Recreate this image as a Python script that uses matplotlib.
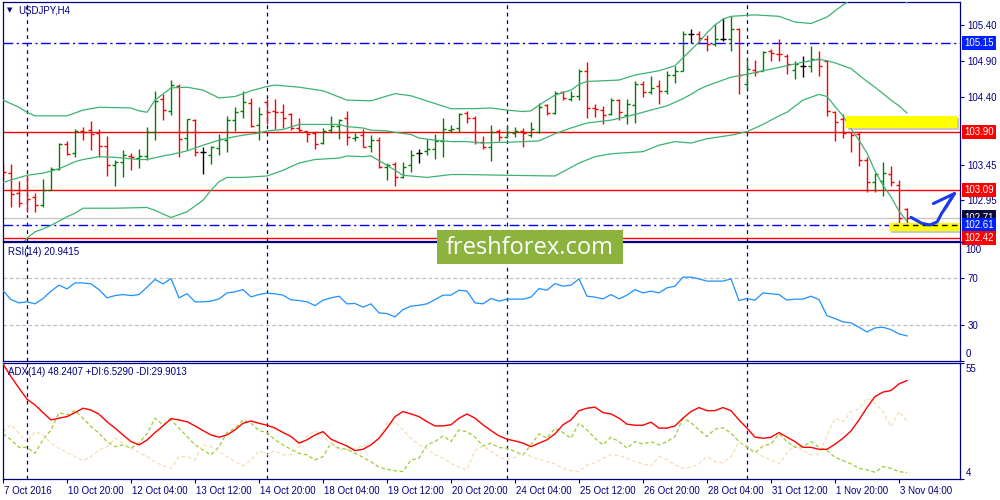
import numpy as np
import matplotlib.pyplot as plt
from matplotlib.patches import Rectangle
from matplotlib.transforms import blended_transform_factory, ScaledTranslation

plt.rcParams['font.family'] = ['Liberation Sans', 'DejaVu Sans']

# ---------------------------------------------------------------------------
# Data (7 Oct 2016 12:00 .. 3 Nov 2016 08:00)
opens = [103.44, 103.33, 103.05, 103.10, 102.99, 102.88, 103.10, 103.39, 103.74, 103.61,
         103.92, 103.93, 103.89, 103.71, 103.45, 103.48, 103.57, 103.54, 103.57, 103.91,
         104.36, 104.20, 104.55, 103.82, 104.07, 103.63, 103.59, 103.68, 103.79, 104.07,
         104.20, 104.31, 104.00, 104.32, 104.20, 104.18, 104.15, 103.96, 103.92, 103.89,
         103.75, 103.93, 103.99, 104.10, 103.82, 103.86, 103.71, 103.79, 103.41, 103.46,
         103.27, 103.44, 103.61, 103.64, 103.66, 103.78, 103.93, 103.96, 104.17, 104.10,
         103.77, 103.70, 103.92, 103.84, 103.89, 103.92, 103.86, 103.91, 104.28, 104.17,
         104.47, 104.36, 104.41, 104.76, 104.24, 104.21, 104.15, 104.35, 104.14, 104.28,
         104.57, 104.47, 104.55, 104.48, 104.70, 104.76, 105.27, 105.27, 105.21, 105.14,
         105.20, 105.20, 105.34, 104.58, 104.77, 104.76, 105.03, 105.00, 104.97, 104.77,
         104.83, 104.83, 104.92, 104.90, 104.19, 104.09, 103.90, 103.87, 103.52, 103.20,
         103.22, 103.32, 103.17, 102.83]
highs = [103.47, 103.46, 103.22, 103.30, 103.05, 103.25, 103.41, 103.75, 103.78, 103.95,
         103.98, 104.06, 103.95, 103.85, 103.51, 103.65, 103.61, 103.66, 103.98, 104.48,
         104.44, 104.63, 104.57, 104.09, 104.08, 103.69, 103.71, 103.87, 104.13, 104.26,
         104.48, 104.38, 104.26, 104.36, 104.36, 104.30, 104.17, 104.10, 103.92, 103.92,
         103.96, 104.13, 104.09, 104.20, 103.89, 103.94, 103.86, 103.83, 103.47, 103.48,
         103.48, 103.65, 103.66, 103.80, 103.88, 104.10, 104.00, 104.17, 104.20, 104.13,
         103.85, 104.00, 103.94, 103.99, 103.98, 103.96, 104.05, 104.31, 104.30, 104.48,
         104.48, 104.48, 104.78, 104.88, 104.29, 104.27, 104.38, 104.36, 104.37, 104.61,
         104.62, 104.69, 104.63, 104.75, 104.83, 105.32, 105.34, 105.32, 105.26, 105.41,
         105.49, 105.52, 105.35, 104.92, 104.91, 105.04, 105.06, 105.21, 104.99, 104.90,
         104.96, 105.11, 105.04, 104.91, 104.20, 104.15, 103.91, 103.91, 103.55, 103.33,
         103.48, 103.43, 103.24, 102.84]
lows = [103.23, 102.85, 102.86, 102.79, 102.79, 102.86, 103.09, 103.38, 103.59, 103.55,
        103.79, 103.65, 103.56, 103.29, 103.15, 103.27, 103.37, 103.40, 103.51, 103.79,
        104.07, 104.14, 103.55, 103.65, 103.57, 103.32, 103.46, 103.59, 103.62, 103.92,
        104.10, 103.98, 103.79, 104.01, 103.95, 103.96, 103.93, 103.90, 103.77, 103.66,
        103.73, 103.89, 103.80, 103.72, 103.78, 103.69, 103.63, 103.40, 103.24, 103.15,
        103.26, 103.34, 103.47, 103.59, 103.53, 103.56, 103.90, 103.90, 104.03, 103.74,
        103.66, 103.50, 103.78, 103.82, 103.83, 103.70, 103.84, 103.89, 104.14, 104.16,
        104.35, 104.34, 104.35, 104.10, 104.11, 104.01, 104.14, 104.07, 104.01, 104.03,
        104.40, 104.44, 104.29, 104.44, 104.59, 104.75, 105.15, 105.14, 105.04, 105.11,
        105.17, 105.03, 104.44, 104.51, 104.68, 104.75, 104.90, 104.90, 104.72, 104.64,
        104.67, 104.74, 104.68, 104.13, 103.78, 103.82, 103.62, 103.43, 103.07, 103.07,
        103.01, 103.15, 102.54, 102.57]
closes = [103.34, 103.04, 102.91, 102.97, 102.88, 103.10, 103.39, 103.74, 103.60, 103.92,
          103.90, 103.88, 103.71, 103.45, 103.49, 103.59, 103.55, 103.57, 103.91, 104.34,
          104.21, 104.56, 103.80, 104.08, 103.63, 103.63, 103.70, 103.80, 104.07, 104.18,
          104.33, 103.99, 104.16, 104.19, 104.18, 104.10, 103.96, 103.93, 103.88, 103.73,
          103.92, 103.99, 104.07, 103.84, 103.84, 103.70, 103.79, 103.42, 103.44, 103.27,
          103.41, 103.59, 103.61, 103.66, 103.78, 103.95, 103.95, 104.16, 104.10, 103.76,
          103.70, 103.91, 103.84, 103.91, 103.92, 103.89, 103.94, 104.25, 104.17, 104.45,
          104.38, 104.41, 104.76, 104.24, 104.23, 104.14, 104.35, 104.19, 104.29, 104.58,
          104.47, 104.52, 104.48, 104.70, 104.76, 105.27, 105.27, 105.22, 105.13, 105.20,
          105.20, 105.34, 104.70, 104.78, 104.74, 105.02, 105.01, 104.99, 104.85, 104.85,
          104.83, 104.92, 104.82, 104.20, 104.05, 103.89, 103.86, 103.51, 103.21, 103.32,
          103.33, 103.20, 102.70, 102.71]

# Bollinger bands (20, 2) sampled along the bars
bb_upper_bar = [0, 2, 3, 4, 6, 8, 10, 12, 16, 17, 18, 19, 21, 23, 25, 27, 29, 31, 33, 34,
                37, 40, 43, 46, 49, 51, 56, 59, 61, 63, 65, 66, 67, 69, 71, 72, 73, 77, 79, 82,
                84, 85, 86, 87, 88, 89, 90, 91, 94, 97, 99, 101, 103, 105, 106, 108, 110, 112, 113]
bb_upper = [104.35, 104.25, 104.18, 104.13, 104.13, 104.13, 104.21, 104.25, 104.24, 104.20,
            104.18, 104.35, 104.52, 104.53, 104.49, 104.38, 104.40, 104.48, 104.54, 104.56,
            104.53, 104.48, 104.35, 104.34, 104.44, 104.41, 104.23, 104.23, 104.24, 104.21,
            104.19, 104.20, 104.28, 104.42, 104.49, 104.57, 104.61, 104.63, 104.70, 104.76,
            104.83, 104.94, 105.05, 105.16, 105.29, 105.40, 105.48, 105.52, 105.54, 105.52,
            105.44, 105.42, 105.51, 105.68, 105.75, 105.86, 105.89, 105.79, 105.71]
bb_middle_bar = [0, 3, 5, 7, 9, 10, 12, 14, 17, 18, 20, 21, 23, 25, 27, 29, 30, 32, 33, 35,
                 37, 38, 42, 43, 45, 46, 48, 49, 51, 52, 54, 56, 58, 60, 62, 63, 67, 69, 71, 73,
                 76, 78, 80, 83, 85, 86, 87, 88, 91, 93, 95, 98, 100, 102, 103, 104, 106, 108, 109,
                 111, 112, 113]
bb_middle = [103.20, 103.30, 103.33, 103.39, 103.49, 103.52, 103.56, 103.55, 103.52, 103.52,
             103.57, 103.59, 103.64, 103.72, 103.79, 103.84, 103.86, 103.89, 103.92, 103.94,
             104.01, 104.01, 104.01, 103.98, 103.96, 103.93, 103.92, 103.90, 103.87, 103.82,
             103.79, 103.77, 103.77, 103.75, 103.76, 103.76, 103.78, 103.88, 103.96, 104.03,
             104.07, 104.12, 104.18, 104.27, 104.37, 104.43, 104.50, 104.55, 104.67, 104.71,
             104.76, 104.83, 104.88, 104.92, 104.90, 104.87, 104.79, 104.61, 104.53,
             104.35, 104.27, 104.17]
bb_lower_bar = [0, 1, 2, 3, 4, 5, 6, 8, 9, 10, 14, 18, 19, 21, 22, 23, 25, 26, 27, 28,
                30, 33, 35, 37, 39, 42, 43, 45, 46, 48, 50, 53, 56, 58, 63, 69, 70, 72, 74, 76,
                80, 82, 84, 86, 87, 88, 91, 93, 95, 97, 98, 100, 102, 103, 104, 105, 106, 107,
                108, 109, 110, 111, 112, 113]
bb_lower = [102.08, 102.18, 102.30, 102.42, 102.51, 102.55, 102.60, 102.72, 102.77, 102.84,
            102.84, 102.85, 102.81, 102.71, 102.75, 102.79, 102.95, 103.09, 103.21, 103.27,
            103.27, 103.29, 103.37, 103.47, 103.52, 103.54, 103.57, 103.56, 103.57, 103.44,
            103.30, 103.27, 103.31, 103.31, 103.30, 103.29, 103.35, 103.47, 103.56, 103.60,
            103.63, 103.72, 103.77, 103.75, 103.78, 103.81, 103.86, 103.91, 104.01, 104.13,
            104.18, 104.35, 104.43, 104.40, 104.26, 104.13, 103.95, 103.79,
            103.61, 103.36, 103.16, 103.00, 102.80, 102.66]

rsi = [59.5, 51.8, 49.0, 49.9, 48.2, 52.7, 59.0, 64.1, 60.9, 66.0,
       66.0, 65.2, 60.3, 53.3, 55.2, 56.1, 55.2, 56.1, 62.4, 68.9,
       65.2, 69.7, 53.3, 56.9, 49.9, 49.9, 50.5, 52.4, 57.5, 58.4,
       60.3, 54.1, 56.1, 57.3, 56.7, 55.6, 51.6, 51.0, 49.9, 46.7,
       51.3, 53.3, 54.7, 48.2, 48.5, 45.4, 48.2, 40.5, 39.9, 37.1,
       43.3, 46.2, 47.0, 48.2, 51.8, 55.6, 55.6, 59.8, 59.0, 49.0,
       48.2, 52.7, 50.5, 52.2, 52.2, 52.2, 53.9, 61.2, 59.8, 65.4,
       63.2, 64.1, 69.4, 54.7, 53.9, 52.4, 56.1, 52.4, 55.6, 60.3,
       57.5, 59.0, 57.5, 61.8, 63.2, 70.9, 70.9, 69.4, 67.5, 67.5,
       67.5, 69.4, 51.0, 52.7, 51.3, 57.5, 56.7, 56.1, 51.3, 52.2,
       52.2, 54.7, 51.8, 38.2, 35.7, 32.9, 32.0, 28.3, 24.3, 27.7,
       28.3, 26.3, 22.6, 20.94]

adx = [55.8, 50.0, 44.8, 39.8, 37.2, 33.7, 30.4, 31.2, 31.9, 33.7,
       35.7, 34.9, 33.0, 29.6, 26.7, 23.6, 20.6, 19.1, 21.3, 24.7,
       27.7, 31.0, 30.4, 29.6, 27.7, 25.6, 23.6, 22.6, 23.6, 25.9,
       28.9, 29.9, 28.9, 28.0, 26.7, 24.7, 22.9, 19.9, 21.4, 23.6,
       25.1, 21.7, 20.1, 18.6, 16.5, 17.1, 19.1, 22.1, 26.7, 31.9,
       34.2, 33.1, 31.9, 29.6, 27.7, 27.7, 28.2, 31.2, 33.1, 31.2,
       28.2, 25.6, 23.2, 21.7, 20.9, 19.9, 18.3, 19.9, 21.4, 24.1,
       28.2, 30.4, 34.6, 35.7, 36.2, 33.7, 33.1, 31.2, 28.5, 28.0,
       28.0, 29.4, 26.7, 26.7, 27.7, 31.2, 34.2, 36.0, 34.6, 34.6,
       36.0, 34.6, 30.4, 26.7, 22.6, 22.1, 22.6, 24.7, 22.6, 20.6,
       18.0, 18.0, 17.1, 17.1, 19.4, 22.1, 25.4, 30.4, 36.0, 41.0,
       43.0, 43.7, 46.7, 48.24]
plus_di = [24.1, 21.4, 18.0, 18.0, 15.3, 21.4, 25.9, 33.7, 32.7, 34.6,
           31.2, 27.4, 24.4, 20.6, 18.3, 19.1, 17.6, 19.9, 24.1, 31.2,
           28.2, 30.4, 26.7, 22.9, 19.1, 16.8, 14.6, 18.3, 24.7, 26.7,
           30.4, 28.9, 25.6, 24.7, 21.4, 19.1, 17.1, 15.3, 14.6, 12.3,
           13.8, 19.9, 17.6, 17.1, 15.3, 13.5, 11.5, 9.0, 8.1, 7.4,
           7.0, 12.3, 13.1, 19.1, 20.6, 23.2, 20.6, 25.9, 25.1, 22.6,
           18.6, 19.9, 17.9, 17.6, 16.1, 14.6, 19.1, 24.1, 22.1, 26.7,
           24.7, 22.1, 28.9, 25.9, 22.1, 19.1, 22.6, 20.6, 17.6, 20.6,
           19.5, 20.6, 19.1, 20.6, 22.9, 31.2, 29.2, 25.9, 22.9, 26.2,
           26.9, 24.4, 20.6, 17.9, 15.6, 18.6, 19.5, 24.1, 20.6, 18.0,
           18.3, 20.6, 18.0, 16.5, 13.5, 12.0, 10.5, 8.5, 7.8, 6.7,
           9.3, 8.5, 7.0, 6.53]
minus_di = [25.1, 28.2, 24.4, 20.1, 25.1, 23.6, 19.9, 17.6, 15.6, 13.8,
            12.0, 13.8, 16.8, 18.3, 22.1, 19.9, 17.6, 15.6, 13.8, 11.5,
            9.6, 8.5, 13.8, 13.8, 12.3, 19.1, 18.3, 16.1, 13.8, 11.5,
            9.6, 12.3, 16.5, 14.6, 16.5, 14.6, 14.6, 18.0, 22.9, 25.6,
            22.9, 19.9, 16.8, 17.1, 17.6, 18.6, 19.5, 22.1, 28.9, 29.6,
            25.9, 22.1, 19.1, 17.1, 14.6, 13.1, 10.8, 9.0, 7.8, 16.8,
            18.6, 16.1, 13.8, 12.3, 13.5, 16.1, 13.8, 12.6, 11.5, 10.5,
            8.5, 7.4, 7.0, 10.0, 11.0, 13.1, 14.6, 14.3, 13.1, 11.5,
            10.5, 9.6, 13.8, 12.3, 10.0, 8.5, 9.0, 10.5, 13.8, 11.5,
            11.0, 13.8, 20.6, 18.6, 16.1, 13.8, 12.3, 10.5, 15.3, 19.1,
            16.5, 14.6, 15.0, 23.2, 31.2, 29.6, 34.2, 35.3, 40.3, 38.0,
            34.2, 27.4, 34.2, 29.90]

date_ticks = [0, 8, 16, 24, 32, 40, 48, 56, 64, 72, 80, 88, 96, 104, 112]
date_labels = ['7 Oct 2016', '10 Oct 20:00', '12 Oct 04:00', '13 Oct 12:00', '14 Oct 20:00',
               '18 Oct 04:00', '19 Oct 12:00', '20 Oct 20:00', '24 Oct 04:00', '25 Oct 12:00',
               '26 Oct 20:00', '28 Oct 04:00', '31 Oct 12:00', '1 Nov 20:00', '3 Nov 04:00']
week_starts = [3, 33, 63, 93]
price_ticks = [105.40, 104.90, 104.40, 103.45, 102.95]

# horizontal levels drawn on the chart
level_lines = [(105.15, '#0000FF', 'dashdot'), (103.90, '#FF0000', 'solid'),
               (103.09, '#FF0000', 'solid'), (102.71, '#C8C8C8', 'solid'),
               (102.61, '#0000FF', 'dashdot'), (102.42, '#FF0000', 'solid')]
level_tags = [(105.15, '#0022FF'), (103.90, '#FF0000'), (103.09, '#FF0000'),
              (102.71, '#0A0A3C'), (102.61, '#0022FF'), (102.42, '#FF0000')]

# ---------------------------------------------------------------------------
NAVY = '#000080'
W, H = 1000, 500
fig = plt.figure(figsize=(W / 100, H / 100), dpi=100)
fig.patch.set_facecolor('white')


def panel(top, bottom):
    return fig.add_axes([2.5 / W, 1 - bottom / H, 958 / W, (bottom - top) / H])


ax = panel(2, 240.5)
ax_rsi = panel(242, 360.5)
ax_adx = panel(362.5, 478.7)

bars = np.arange(len(closes))
o, h, l, c = map(np.asarray, (opens, highs, lows, closes))
colors = np.where(c > o, '#008000', np.where(c < o, '#FF0000', '#000000'))

for a in (ax, ax_rsi, ax_adx):
    a.set_xlim(-0.0625, 119.69)
    for s in a.spines.values():
        s.set_color(NAVY)
        s.set_linewidth(0.9)
    a.tick_params(axis='x', bottom=False, labelbottom=False)
    a.yaxis.tick_right()
    a.tick_params(axis='y', colors=NAVY, labelcolor=NAVY, labelsize=7,
                  length=3, width=0.8, pad=2)
    for b in week_starts:
        a.axvline(b, color=NAVY, lw=0.9, ls=(0, (3, 3)), zorder=1)

# --- main price panel -------------------------------------------------------
ax.set_ylim(102.389, 105.720)
for price, col, style in level_lines:
    ls = (0, (7, 2.5, 1.5, 2.5)) if style == 'dashdot' else '-'
    ax.axhline(price, color=col, lw=1.0, ls=ls, zorder=1.5)

ax.vlines(bars, l, h, colors=colors, lw=1.0, zorder=2)
ax.hlines(o, bars - 0.36, bars, colors=colors, lw=1.0, zorder=2)
ax.hlines(c, bars, bars + 0.36, colors=colors, lw=1.0, zorder=2)

band_col = '#3CB371'
ax.plot(bb_upper_bar, bb_upper, color=band_col, lw=0.9, zorder=3)
ax.plot(bb_middle_bar, bb_middle, color=band_col, lw=0.9, zorder=3)
ax.plot(bb_lower_bar, bb_lower, color=band_col, lw=0.9, zorder=3)

ax.set_yticks(price_ticks)
ax.set_yticklabels([f'{p:.2f}' for p in price_ticks])

# yellow zones with a soft shadow
for x0, y0, w, hgt in [(105.4, 103.96, 13.85, 0.165), (110.75, 102.52, 8.85, 0.11)]:
    ax.add_patch(Rectangle((x0 + 0.2, y0 - 0.025), w, hgt, fc='#9A9A9A', ec='none',
                           alpha=0.55, zorder=4))
    ax.add_patch(Rectangle((x0, y0), w, hgt, fc='#FFFF00', ec='none', zorder=5))
ax.hlines(102.605, 111.3, 119.6, colors='black', lw=1.0, linestyles=(0, (4, 3)), zorder=6)

# hand drawn arrow
arrow_x = [113.5, 114.84, 115.88, 116.79, 117.34, 117.96, 118.63, 118.94]
arrow_y = [102.713, 102.629, 102.605, 102.651, 102.769, 102.871, 102.996, 103.045]
ax.plot(arrow_x, arrow_y, color='#1C3BE8', lw=2.2, solid_capstyle='round',
        solid_joinstyle='round', zorder=7, clip_on=False)
ax.plot([116.3, 118.94, 117.7], [102.905, 103.045, 102.83], color='#1C3BE8', lw=2.2,
        solid_capstyle='round', solid_joinstyle='round', zorder=7, clip_on=False)

tag_tr = blended_transform_factory(ax.transAxes, ax.transData)
for price, col in level_tags:
    ax.text(1.0037, price, f'{price:.2f}', transform=tag_tr, ha='left', va='center',
            color='white', fontsize=7, clip_on=False, zorder=10,
            bbox=dict(boxstyle='square,pad=0.22', fc=col, ec='none'))

# --- RSI panel ---------------------------------------------------------------
ax_rsi.set_ylim(0, 100.8)
for lv in (70, 30):
    ax_rsi.axhline(lv, color='#C0C0C0', lw=0.9, ls=(0, (3, 2)), zorder=1)
ax_rsi.plot(bars, rsi, color='#1E90FF', lw=0.9, zorder=3)
ax_rsi.set_yticks([0, 30, 70, 100.8])
ax_rsi.set_yticklabels(['', '30', '70', ''])
rsi_tr = blended_transform_factory(ax_rsi.transAxes, ax_rsi.transData)
ax_rsi.text(1.0052, 94.0, '100', transform=rsi_tr, ha='left', va='center',
            color=NAVY, fontsize=7)
ax_rsi.text(1.0052, 5.8, '0', transform=rsi_tr, ha='left', va='center',
            color=NAVY, fontsize=7)

# --- ADX panel ---------------------------------------------------------------
ax_adx.set_ylim(3.8, 56.4)
ax_adx.plot(bars, plus_di, color='#9ACD32', lw=0.9, ls=(0, (3, 2)), zorder=2)
ax_adx.plot(bars, minus_di, color='#F5DEB3', lw=0.9, ls=(0, (3, 2)), zorder=2)
ax_adx.plot(bars, adx, color='#FF0000', lw=1.0, zorder=3)
ax_adx.set_yticks([3.8, 56.4])
ax_adx.set_yticklabels(['', ''])
adx_tr = blended_transform_factory(ax_adx.transAxes, ax_adx.transData)
ax_adx.text(1.0052, 53.3, '55', transform=adx_tr, ha='left', va='center',
            color=NAVY, fontsize=7)
ax_adx.text(1.0052, 6.5, '4', transform=adx_tr, ha='left', va='center',
            color=NAVY, fontsize=7)

ax_adx.tick_params(axis='x', bottom=True, labelbottom=True, colors=NAVY,
                   labelcolor=NAVY, labelsize=7, length=3, width=0.8, pad=2)
ax_adx.set_xticks(date_ticks)
ax_adx.set_xticklabels(date_labels)
shift = ScaledTranslation(1 / 100, 0, fig.dpi_scale_trans)
for lab in ax_adx.get_xticklabels():
    lab.set_ha('left')
    lab.set_transform(lab.get_transform() + shift)

# --- captions --------------------------------------------------------------
fig.text(7 / W, 1 - 10.5 / H, '\u25BC', fontsize=5, color=NAVY, va='center',
         family='DejaVu Sans')
fig.text(18 / W, 1 - 10.5 / H, 'USDJPY,H4', fontsize=7, color=NAVY, va='center')
fig.text(8 / W, 1 - 252 / H, 'RSI(14) 20.9415', fontsize=7, color=NAVY, va='center')
fig.text(8 / W, 1 - 371.7 / H, 'ADX(14) 48.2407 +DI:6.5290 -DI:29.9013', fontsize=7,
         color=NAVY, va='center')

# watermark
fig.add_artist(Rectangle((437 / W, 1 - 264 / H), 186 / W, 34 / H, transform=fig.transFigure,
                         fc='#8DB33F', ec='none', zorder=20))
fig.text(530 / W, 1 - 247.5 / H, 'freshforex.com', fontsize=17, color='white',
         ha='center', va='center', family=['Open Sans', 'DejaVu Sans'], zorder=21)

fig.savefig('out.png', dpi=100, facecolor='white')
